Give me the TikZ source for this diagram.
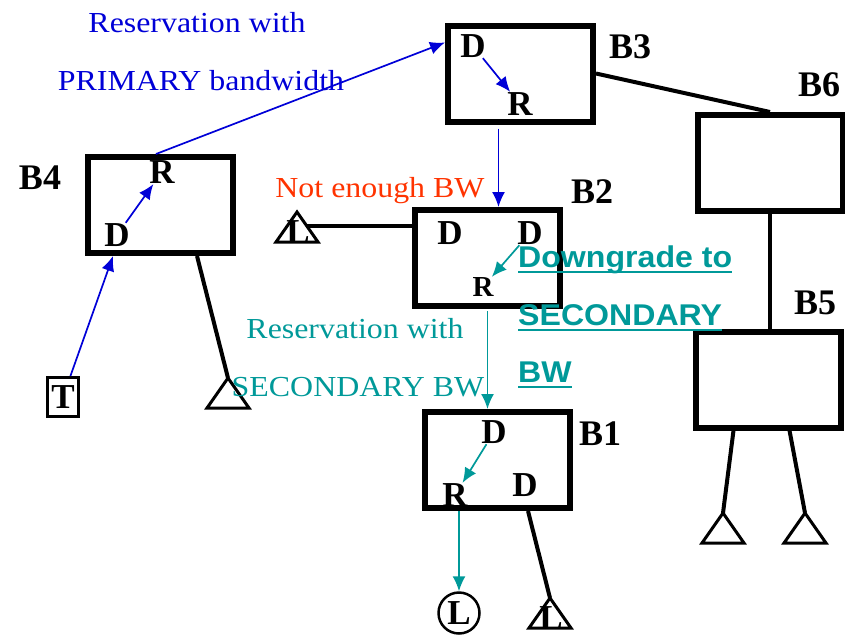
\documentclass[tikz,border=0pt]{standalone}
\usepackage{fontspec}
\setmainfont{Liberation Serif}
\setsansfont{Liberation Sans}
\newfontfamily\wideserif[FakeStretch=1.1]{Liberation Serif}
\newfontfamily\widesans[FakeStretch=1.07]{Liberation Sans}
\usepackage{xcolor}
\usetikzlibrary{arrows.meta}
\definecolor{resblue}{RGB}{0,0,215}
\definecolor{resteal}{RGB}{0,153,153}
\definecolor{notred}{RGB}{255,51,0}

\begin{document}
\begin{tikzpicture}[x=1pt,y=-1pt,
		bridgebox/.style={draw, line width=6pt, minimum width=145pt, minimum height=96pt, inner sep=0pt},
		bridgename/.style={font=\bfseries\fontsize{36}{36}\selectfont},
		portname/.style={font=\bfseries\fontsize{35}{35}\selectfont, inner sep=0.5pt},
		wire/.style={line width=4pt},
		term/.style={line width=3pt, line join=miter},
		primary/.style={resblue, line width=1.7pt, -{Latex[length=15pt,width=13pt]}},
		secondary/.style={resteal, line width=1.7pt, -{Latex[length=15pt,width=13pt]}},
		remark/.style={font=\wideserif\fontsize{29}{29}\selectfont, anchor=base},
		downgrade/.style={font=\widesans\bfseries\fontsize{30}{30}\selectfont, text=resteal, anchor=base west, inner sep=0pt}]
		\useasboundingbox (0,0) rectangle (845,635);

		\node[bridgebox] (b3) at (520.5,73.5) {};
		\node[bridgebox] (b4) at (160,205) {};
		\node[bridgebox] (b2) at (487.5,258) {};
		\node[bridgebox] (b1) at (497,460) {};
		\node[bridgebox] (b6) at (770,163) {};
		\node[bridgebox] (b5) at (768.5,379.5) {};

		\node[bridgename] (n3) at (630,47) {B3};
		\node[bridgename] (n4) at (40,178) {B4};
		\node[bridgename] (n2) at (592,192) {B2};
		\node[bridgename] (n1) at (600,434) {B1};
		\node[bridgename] (n6) at (819,85) {B6};
		\node[bridgename] (n5) at (815,303) {B5};

		\node[portname] (b3d) at (473,46) {D};
		\node[portname] (b3r) at (520,104) {R};
		\node[portname] (b4d) at (117,235) {D};
		\node[portname] (b4r) at (162,172) {R};
		\node[portname] (b2d) at (450,233) {D};
		\node[portname] (b2e) at (530,233) {D};
		\node[portname, font=\bfseries\fontsize{29}{29}\selectfont] (b2r) at (483,287) {R};
		\node[portname] (b1d) at (494,432) {D};
		\node[portname] (b1r) at (455,495) {R};
		\node[portname] (b1e) at (525,485) {D};

		\node[draw, line width=3pt, minimum width=31pt, minimum height=39pt, inner sep=0pt, font=\bfseries\fontsize{35}{35}\selectfont] (t) at (63,397) {T};
		\node[draw, circle, line width=2.5pt, minimum size=41pt, inner sep=0pt, font=\bfseries\fontsize{35}{35}\selectfont] (l) at (459,613) {L};

		\coordinate (ta) at (228,378);
		\coordinate (tb) at (297,212);
		\coordinate (tc) at (550,598);
		\coordinate (td) at (723,513);
		\coordinate (te) at (805,513);
		\coordinate (tbedge) at (307,226);
		\foreach \t in {ta,tb,tc,td,te}
			\draw[term] (\t) -- ++(-21,30) -- ++(42,0) -- cycle;
		\node[portname, anchor=base] (lb) at (298,243) {L};
		\node[portname, anchor=base] (lc) at (551,629) {L};

		\draw[wire] (b3.east) -- (b6.north);
		\draw[wire] (b6.south) -- (b6.south |- b5.north);
		\draw[wire] ([yshift=32pt]b2.west) -- (tbedge);
		\draw[wire] ([xshift=37pt]b4.south) -- (ta);
		\draw[wire] ([xshift=31pt]b1.south) -- (tc);
		\draw[wire] ([xshift=-35pt]b5.south) -- (td);
		\draw[wire] ([xshift=21pt]b5.south) -- (te);

		\draw[primary] (b3d) -- (b3r);
		\draw[primary] (b4d) -- (b4r);
		\draw[secondary] (b2e) -- (b2r);
		\draw[secondary] (b1d) -- (b1r);

		\draw[primary] (t) -- ([xshift=-47pt]b4.south);
		\draw[primary] ([xshift=-4pt]b4.north) -- ([yshift=31pt]b3.west);
		\draw[primary] ([xshift=-22pt,yshift=-4pt]b3.south) -- ([xshift=-22pt]b3.south |- b2.north);
		\draw[secondary] ([yshift=-2pt]b2.south) -- (b2.south |- b1.north);
		\draw[secondary] ([xshift=-38pt]b1.south) -- (l);

		\node[remark, text=resblue] (prim1) at (197,32) {Reservation with};
		\node[remark, text=resblue] (prim2) at (201,90) {PRIMARY bandwidth};
		\node[remark, text=notred] (nobw) at (380,197) {Not enough BW};
		\node[remark, text=resteal] (sec1) at (355,338) {Reservation with};
		\node[remark, text=resteal] (sec2) at (358,396) {SECONDARY BW};
		\node[downgrade] (dg1) at (518,267) {Downgrade to};
		\node[downgrade] (dg2) at (518,325) {SECONDARY};
		\node[downgrade] (dg3) at (518,382) {BW};
		\foreach \n in {dg1,dg2,dg3}
			\draw[resteal, line width=2.5pt] ([yshift=-5pt]\n.base west) -- ([yshift=-5pt]\n.base east);
		\end{tikzpicture}
\end{document}
